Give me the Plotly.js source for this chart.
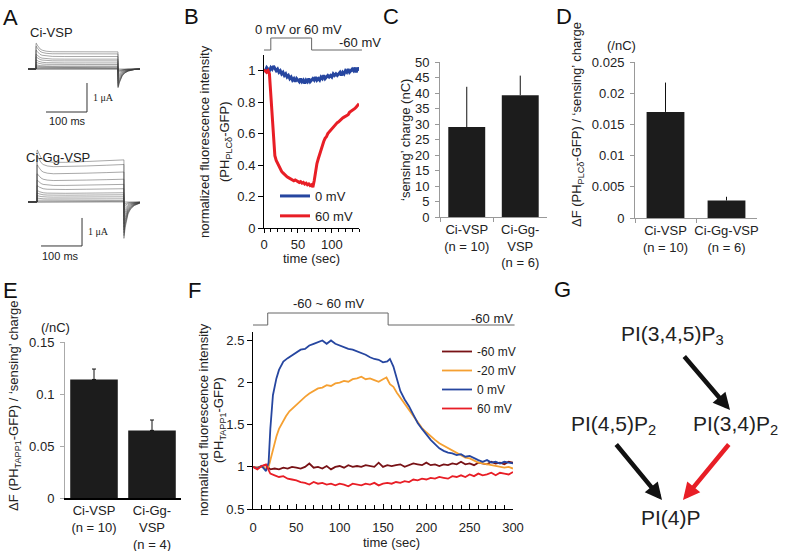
<!DOCTYPE html>
<html><head><meta charset="utf-8">
<script src="https://cdn.plot.ly/plotly-3.0.1.min.js"></script>
<style>html,body{margin:0;padding:0;background:#fff}#chart{width:785px;height:551px}</style>
</head><body><div id="chart"></div>
<script>
// ================= DATA =================
// A: current families (steady amplitude and OFF-tail amplitude per trace, µA)
const ciVspSteady = [0.59, 0.52, 0.43, 0.34, 0.28, 0.21, 0.155, 0.10, 0.07, 0.04, 0.02, 0.007, 0];
const ciVspTail   = [-0.65, -0.62, -0.58, -0.53, -0.47, -0.40, -0.33, -0.26, -0.19, -0.13, -0.08, -0.04, -0.01];
const ciVspTimeMs = [-20, 0, 0.01, 1, 3, 6, 10, 15, 25, 40, 70, 120, 199.99, 200, 200.01, 201, 203, 206, 210, 216, 225, 240, 254];
const ciVspOnShape  = [0, 0, 1.5, 1.5, 1.4, 1.28, 1.17, 1.1, 1.04, 1.01, 1.0, 1.0, 1.0, 0, 0, 0, 0, 0, 0, 0, 0, 0, 0];
const ciVspOffShape = [0, 0, 0, 0, 0, 0, 0, 0, 0, 0, 0, 0, 0, 0, 1.0, 0.95, 0.75, 0.55, 0.38, 0.22, 0.11, 0.03, 0];

const ggSteady = [1.46, 1.30, 1.04, 0.79, 0.61, 0.46, 0.32, 0.25, 0.18, 0.11, 0.05, 0.02, 0];
const ggTail   = [-1.30, -1.20, -1.10, -1.00, -0.90, -0.78, -0.65, -0.52, -0.40, -0.28, -0.17, -0.08, -0.02];
const ggTimeMs = [-22, 0, 0.01, 1, 3, 6, 10, 15, 25, 40, 70, 120, 170, 211.99, 212, 212.01, 213, 215, 218, 222, 228, 237, 251];
const ggOnShape  = [0, 0, 1.27, 1.27, 1.22, 1.15, 1.08, 1.03, 0.99, 0.97, 0.97, 0.99, 1.01, 1.03, 0, 0, 0, 0, 0, 0, 0, 0, 0];
const ggOffShape = [0, 0, 0, 0, 0, 0, 0, 0, 0, 0, 0, 0, 0, 0, 0, 1.0, 0.9, 0.7, 0.5, 0.33, 0.2, 0.1, 0.03];

// B: normalized PH(PLCδ)-GFP fluorescence
const bTime = [0,2,4,6,8,10,12,14,16,18,20,22,24,26,28,30,32,34,36,38,40,42,44,46,48,50,52,54,56,58,60,62,64,66,68,70,72,74,76,78,80,82,84,86,88,90,92,94,96,98,100,102,104,106,108,110,112,114,116,118,120,122,124,126,128,130,132,134,136,138,140];
const b0mV = [1.01,1.00,1.02,1.01,1.00,1.02,1.01,1.03,1.01,1.00,1.01,0.99,1.00,0.98,0.99,0.97,0.98,0.96,0.97,0.95,0.96,0.94,0.95,0.93,0.95,0.94,0.93,0.95,0.93,0.94,0.92,0.94,0.93,0.95,0.93,0.94,0.95,0.94,0.96,0.94,0.95,0.94,0.96,0.95,0.97,0.95,0.96,0.97,0.96,0.97,0.96,0.98,0.97,0.98,0.97,0.98,0.99,0.97,0.99,0.98,1.00,0.99,1.01,0.99,1.00,1.01,1.00,1.02,0.99,1.02,1.00];
const b60mV = [1.00,1.00,0.99,1.00,0.98,0.85,0.65,0.52,0.46,0.43,0.41,0.39,0.37,0.36,0.35,0.34,0.33,0.325,0.32,0.315,0.31,0.31,0.30,0.305,0.30,0.295,0.29,0.295,0.285,0.29,0.28,0.285,0.275,0.28,0.27,0.275,0.26,0.30,0.36,0.41,0.44,0.47,0.50,0.53,0.55,0.57,0.58,0.60,0.61,0.62,0.63,0.645,0.65,0.66,0.67,0.675,0.685,0.69,0.70,0.705,0.71,0.72,0.72,0.735,0.74,0.745,0.75,0.76,0.77,0.78,0.79];
const bTickVals = [0, 0.2, 0.4, 0.6, 0.8, 1];
const bTickText = ['0', '0.2', '0.4', '0.6', '0.8', '1'];
const bProtoTime = [0, 10, 10, 70, 70, 144];
const bProtoMv   = [-60, -60, 60, 60, -60, -60];

// C: sensing charge
const cCategories = ['Ci-VSP', 'Ci-Gg-VSP'];
const cLabels = ['Ci-VSP<br>(n = 10)', 'Ci-Gg-<br>VSP<br>(n = 6)'];
const cCharge = [29.0, 39.3];
const cErr = [13.0, 6.3];

// D: ΔF(PLCδ) / sensing charge
const dCategories = ['Ci-VSP', 'Ci-Gg-VSP'];
const dLabels = ['Ci-VSP<br>(n = 10)', 'Ci-Gg-VSP<br>(n = 6)'];
const dRatio = [0.0170, 0.0028];
const dErr = [0.0047, 0.0006];
const dTickVals = [0, 0.005, 0.01, 0.015, 0.02, 0.025];
const dTickText = ['0', '0.005', '0.01', '0.015', '0.02', '0.025'];

// E: ΔF(TAPP1) / sensing charge
const eCategories = ['Ci-VSP', 'Ci-Gg-VSP'];
const eLabels = ['Ci-VSP<br>(n = 10)', 'Ci-Gg-<br>VSP<br>(n = 4)'];
const eRatio = [0.114, 0.065];
const eErr = [0.010, 0.010];
const eTickVals = [0, 0.05, 0.1, 0.15];
const eTickText = ['0', '0.05', '0.1', '0.15'];

// F: normalized PH(TAPP1)-GFP fluorescence
const fTimeM60 = [0,5,10,15,20,25,30,35,40,45,50,55,60,65,70,75,80,85,90,95,100,105,110,115,120,125,130,135,140,145,150,155,160,165,170,175,180,185,190,195,200,205,210,215,220,225,230,235,240,245,250,255,260,265,270,275,280,285,290,295,300];
const fM60 = [1.00,0.99,1.01,1.02,0.97,0.98,0.97,0.99,0.98,1.00,0.99,0.98,1.00,1.04,0.99,1.00,0.98,1.01,0.97,1.00,1.01,0.99,1.02,1.00,1.01,1.00,1.02,1.01,1.00,1.05,1.00,1.02,1.01,1.02,1.03,1.00,1.02,1.04,1.03,1.02,1.05,1.02,1.03,1.01,1.03,1.02,1.04,1.03,1.06,1.03,1.04,1.02,1.05,1.04,1.03,1.06,1.04,1.05,1.03,1.06,1.05];
const fTimeM20 = [0,5,10,15,18,21,24,27,30,34,38,42,46,50,55,60,65,70,75,80,85,90,95,100,105,110,115,120,125,130,135,140,145,150,154,158,162,166,170,175,180,185,190,195,200,205,210,215,220,225,230,235,240,245,250,255,260,265,270,275,280,285,290,295,300];
const fM20 = [1.00,0.99,1.00,0.98,1.00,1.12,1.25,1.36,1.45,1.53,1.60,1.66,1.70,1.74,1.78,1.83,1.87,1.90,1.93,1.94,1.97,1.96,1.99,2.00,2.02,2.01,2.04,2.05,2.07,2.04,2.05,2.03,2.01,2.04,2.06,1.98,1.95,1.88,1.82,1.75,1.67,1.60,1.52,1.46,1.41,1.36,1.32,1.28,1.25,1.22,1.20,1.16,1.14,1.11,1.10,1.07,1.05,1.04,1.03,1.02,1.01,1.00,0.99,1.00,0.98];
const fTime0 = [0,5,10,15,18,20,23,27,30,35,40,45,50,55,60,65,70,75,80,85,90,95,100,105,110,115,120,125,130,135,140,145,150,155,158,162,166,170,175,180,185,190,195,200,205,210,215,220,225,230,235,240,245,250,255,260,265,270,275,280,285,290,295,300];
const f0 = [1.00,0.98,1.01,0.95,1.05,1.45,1.85,2.05,2.15,2.25,2.29,2.32,2.36,2.39,2.40,2.44,2.46,2.48,2.50,2.46,2.50,2.46,2.44,2.42,2.40,2.39,2.37,2.35,2.33,2.30,2.28,2.27,2.24,2.25,2.28,2.19,2.05,1.90,1.80,1.72,1.62,1.52,1.45,1.38,1.32,1.27,1.22,1.19,1.17,1.16,1.14,1.15,1.12,1.13,1.10,1.08,1.06,1.08,1.05,1.06,1.04,1.06,1.05,1.04];
const fTime60 = [0,5,10,15,18,20,25,30,35,40,45,50,55,60,65,70,75,80,85,90,95,100,105,110,115,120,125,130,135,140,145,150,155,160,165,170,175,180,185,190,195,200,205,210,215,220,225,230,235,240,245,250,255,260,265,270,275,280,285,290,295,300];
const f60 = [1.00,0.97,1.01,1.03,0.96,0.92,0.90,0.88,0.89,0.86,0.85,0.84,0.82,0.81,0.79,0.82,0.80,0.81,0.79,0.80,0.78,0.80,0.79,0.77,0.80,0.79,0.78,0.80,0.79,0.81,0.78,0.80,0.81,0.80,0.82,0.81,0.83,0.82,0.85,0.84,0.86,0.85,0.87,0.86,0.88,0.87,0.86,0.89,0.88,0.90,0.88,0.91,0.89,0.92,0.90,0.91,0.93,0.90,0.93,0.92,0.91,0.94];
const fTickVals = [0.5, 1, 1.5, 2, 2.5];
const fTickText = ['0.5', '1', '1.5', '2', '2.5'];
const fProtoTime = [0, 17, 17, 156, 156, 302];
const fProtoMv   = [-60, -60, 60, 60, -60, -60];

// ================= LAYOUT HELPERS =================
const W = 785, H = 551;
const xd = (a, b) => [a / W, b / W];
const yd = (top, bottom) => [1 - bottom / H, 1 - top / H];
const px = v => v / W;
const py = v => 1 - v / H;
const FONT = 'Liberation Sans, Arial, Helvetica, sans-serif';
const BLUE = 'rgb(38,70,160)', RED = 'rgb(232,30,38)', ORANGE = 'rgb(245,160,50)', DARKRED = 'rgb(120,18,22)';

const hidden = (domain, range, anchor) => ({domain, range, anchor, visible: false, fixedrange: true, showgrid: false, zeroline: false});
const axBase = {showgrid: false, zeroline: false, showline: true, linecolor: '#000', linewidth: 1,
  ticks: 'outside', ticklen: 4, tickcolor: '#000', tickwidth: 1, tickangle: 0,
  tickfont: {size: 13, color: '#222', family: FONT}, fixedrange: true};
const ax = (o) => Object.assign({}, axBase, o);

const traces = [];
// ---- A: current families
const aCol = 'rgba(60,60,60,0.75)';
for (let i = 0; i < ciVspSteady.length; i++) {
  traces.push({type: 'scatter', mode: 'lines', x: ciVspTimeMs,
    y: ciVspTimeMs.map((t, k) => ciVspSteady[i] * ciVspOnShape[k] + ciVspTail[i] * ciVspOffShape[k]),
    line: {color: aCol, width: 0.6}, xaxis: 'x', yaxis: 'y', showlegend: false, hoverinfo: 'skip'});
}
for (let i = 0; i < ggSteady.length; i++) {
  traces.push({type: 'scatter', mode: 'lines', x: ggTimeMs,
    y: ggTimeMs.map((t, k) => ggSteady[i] * ggOnShape[k] + ggTail[i] * ggOffShape[k]),
    line: {color: aCol, width: 0.6}, xaxis: 'x2', yaxis: 'y2', showlegend: false, hoverinfo: 'skip'});
}
// scale bars (100 ms, 1 µA)
traces.push({type: 'scatter', mode: 'lines', x: [24.4, 124.4, 124.4], y: [-1.483, -1.483, -0.483],
  line: {color: '#333', width: 1}, xaxis: 'x', yaxis: 'y', showlegend: false, hoverinfo: 'skip'});
traces.push({type: 'scatter', mode: 'lines', x: [9.8, 109.8, 109.8], y: [-1.571, -1.571, -0.571],
  line: {color: '#333', width: 1}, xaxis: 'x2', yaxis: 'y2', showlegend: false, hoverinfo: 'skip'});

// ---- B
traces.push({type: 'scatter', mode: 'lines', x: bTime, y: b0mV, name: '0 mV', legend: 'legend',
  line: {color: BLUE, width: 3}, xaxis: 'x3', yaxis: 'y3'});
traces.push({type: 'scatter', mode: 'lines', x: bTime, y: b60mV, name: '60 mV', legend: 'legend',
  line: {color: RED, width: 3}, xaxis: 'x3', yaxis: 'y3'});
traces.push({type: 'scatter', mode: 'lines', x: bProtoTime, y: bProtoMv, line: {color: '#666', width: 1},
  xaxis: 'x8', yaxis: 'y8', showlegend: false});

// ---- C, D, E bars
const barTrace = (cats, vals, errs, xa, ya, width, capw) => ({type: 'bar', x: cats, y: vals, width: width,
  marker: {color: '#1c1c1c', line: {width: 0}},
  error_y: {type: 'data', symmetric: false, array: errs, arrayminus: errs.map(() => 0), color: '#111', thickness: 1, width: capw},
  xaxis: xa, yaxis: ya, showlegend: false, hoverinfo: 'skip'});
traces.push(barTrace(cCategories, cCharge, cErr, 'x4', 'y4', 0.69, 0));
traces.push(barTrace(dCategories, dRatio, dErr, 'x5', 'y5', 0.62, 0));
traces.push(barTrace(eCategories, eRatio, eErr, 'x6', 'y6', 0.82, 2));

// ---- F
traces.push({type: 'scatter', mode: 'lines', x: fTimeM60, y: fM60, name: '-60 mV', legend: 'legend2',
  line: {color: DARKRED, width: 1.8}, xaxis: 'x7', yaxis: 'y7'});
traces.push({type: 'scatter', mode: 'lines', x: fTimeM20, y: fM20, name: '-20 mV', legend: 'legend2',
  line: {color: ORANGE, width: 1.8}, xaxis: 'x7', yaxis: 'y7'});
traces.push({type: 'scatter', mode: 'lines', x: fTime0, y: f0, name: '0 mV', legend: 'legend2',
  line: {color: BLUE, width: 1.8}, xaxis: 'x7', yaxis: 'y7'});
traces.push({type: 'scatter', mode: 'lines', x: fTime60, y: f60, name: '60 mV', legend: 'legend2',
  line: {color: RED, width: 1.8}, xaxis: 'x7', yaxis: 'y7'});
traces.push({type: 'scatter', mode: 'lines', x: fProtoTime, y: fProtoMv, line: {color: '#666', width: 1},
  xaxis: 'x9', yaxis: 'y9', showlegend: false});

// ================= ANNOTATIONS =================
const ann = [];
const txt = (x, y, text, opt = {}) => ann.push(Object.assign({xref: 'paper', yref: 'paper', x: px(x), y: py(y),
  text, showarrow: false, xanchor: 'center', yanchor: 'middle',
  font: {family: FONT, size: 13, color: '#222'}}, opt));
const letter = (x, y, t) => txt(x, y, t, {font: {family: FONT, size: 22, color: '#111'}});
letter(10, 17, 'A'); letter(191, 16, 'B'); letter(391, 16, 'C'); letter(564, 16, 'D');
letter(10, 290, 'E'); letter(194, 290, 'F'); letter(562, 289, 'G');

// A labels
txt(51, 33, 'Ci-VSP');
txt(58, 157, 'Ci-Gg-VSP');
txt(91, 97, '1 μA', {xanchor: 'left', font: {family: 'Liberation Serif, Times New Roman, serif', size: 10, color: '#222'}});
txt(86, 231, '1 μA', {xanchor: 'left', font: {family: 'Liberation Serif, Times New Roman, serif', size: 10, color: '#222'}});
txt(67, 121, '100 ms', {font: {family: FONT, size: 11, color: '#222'}});
txt(60, 256, '100 ms', {font: {family: FONT, size: 11, color: '#222'}});

// B labels
txt(298, 30, '0 mV or 60 mV');
txt(383, 43, '-60 mV', {xanchor: 'right'});
txt(204, 142, 'normalized fluorescence intensity', {textangle: -90});
txt(225, 142, '(PH<sub>PLCδ</sub>-GFP)', {textangle: -90});
txt(311, 258, 'time (sec)');

// C labels
txt(405, 140, '‘sensing’ charge (nC)', {textangle: -90});

// D labels
txt(578, 125, 'ΔF (PH<sub>PLCδ</sub>-GFP) / ‘sensing’ charge', {textangle: -90});
txt(621, 46, '(/nC)');

// E labels
txt(14, 406, 'ΔF (PH<sub>TAPP1</sub>-GFP) / ‘sensing’ charge', {textangle: -90});
txt(55, 327, '(/nC)');

// F labels
txt(329, 303, '-60 ~ 60 mV');
txt(515, 318, '-60 mV', {xanchor: 'right'});
txt(203, 420, 'normalized fluorescence intensity', {textangle: -90});
txt(219, 420, '(PH<sub>TAPP1</sub>-GFP)', {textangle: -90});
txt(391, 542, 'time (sec)');

// G scheme
const gFont = {family: FONT, size: 21, color: '#222'};
txt(672, 335, 'PI(3,4,5)P<sub>3</sub>', {font: gFont});
txt(613, 425, 'PI(4,5)P<sub>2</sub>', {font: gFont});
txt(735, 425, 'PI(3,4)P<sub>2</sub>', {font: gFont});
txt(671, 517, 'PI(4)P', {font: gFont});
const arrow = (x0, y0, x1, y1, col) => ann.push({xref: 'paper', yref: 'paper', x: px(x1), y: py(y1),
  ax: x0 - x1, ay: y0 - y1, text: '', showarrow: true, arrowhead: 2, arrowsize: 0.75, arrowwidth: 4.5, arrowcolor: col});
arrow(683, 355, 730, 410, '#111');
arrow(615, 443, 662, 500, '#111');
arrow(730, 443, 683, 500, RED);

// ================= LAYOUT =================
const layout = {
  width: W, height: H, margin: {l: 0, r: 0, t: 0, b: 0}, paper_bgcolor: '#fff', plot_bgcolor: 'rgba(0,0,0,0)',
  font: {family: FONT, size: 13, color: '#222'},
  xaxis: hidden(xd(28, 140), [-19.5, 253.7], 'y'), yaxis: hidden(yd(36, 118), [-1.69, 1.138], 'x'),
  xaxis2: hidden(xd(28, 140), [-22, 251.2], 'y2'), yaxis2: hidden(yd(140, 252), [-1.786, 2.214], 'x2'),
  xaxis3: ax({anchor: 'y3', domain: xd(264, 359), range: [0, 140], tickvals: [0, 50, 100],
    minor: {dtick: 10, tick0: 0, ticks: 'outside', ticklen: 3, tickcolor: '#000'}}),
  yaxis3: ax({anchor: 'x3', domain: yd(55, 228), range: [0, 1.1], tickvals: bTickVals, ticktext: bTickText, ticklen: 5}),
  xaxis4: ax({anchor: 'y4', domain: xd(440, 547), type: 'category', tickvals: cCategories, ticktext: cLabels,
    tickson: 'boundaries', linecolor: '#999', tickcolor: '#999', range: [-0.5, 1.5]}),
  yaxis4: ax({anchor: 'x4', domain: yd(62, 217), range: [0, 50], dtick: 5, linecolor: '#999', tickcolor: '#999', ticklabelstandoff: 3}),
  xaxis5: ax({anchor: 'y5', domain: xd(635, 757), type: 'category', tickvals: dCategories, ticktext: dLabels,
    tickson: 'boundaries', linecolor: '#999', tickcolor: '#999', range: [-0.5, 1.5]}),
  yaxis5: ax({anchor: 'x5', domain: yd(62, 218), range: [0, 0.025], tickvals: dTickVals, ticktext: dTickText, linecolor: '#999', tickcolor: '#999', ticklabelstandoff: 3}),
  xaxis6: ax({anchor: 'y6', domain: xd(65, 181), type: 'category', tickvals: eCategories, ticktext: eLabels,
    ticks: '', linewidth: 1.5, range: [-0.5, 1.5]}),
  yaxis6: ax({anchor: 'x6', domain: yd(342, 498), range: [0, 0.15], tickvals: eTickVals, ticktext: eTickText, linecolor: '#aaa', tickcolor: '#aaa', ticklabelstandoff: 3}),
  xaxis7: ax({anchor: 'y7', domain: xd(253, 513), range: [0, 300], dtick: 50, ticks: 'inside', ticklen: 5, ticklabelstandoff: 6,
    minor: {dtick: 10, tick0: 0, ticks: 'inside', ticklen: 4, tickcolor: '#000'}}),
  yaxis7: ax({anchor: 'x7', domain: yd(332, 509), range: [0.5, 2.6], tickvals: fTickVals, ticktext: fTickText, ticklen: 5}),
  xaxis8: hidden(xd(264, 362), [0, 144.1], 'y8'), yaxis8: hidden(yd(36, 54), [-100, 80], 'x8'),
  xaxis9: hidden(xd(253, 515), [0, 302.5], 'y9'), yaxis9: hidden(yd(309, 329), [-100, 100], 'x9'),
  legend: {x: px(275), y: py(181), xanchor: 'left', yanchor: 'top', bgcolor: 'rgba(0,0,0,0)', borderwidth: 0,
    font: {family: FONT, size: 13, color: '#222'}, tracegroupgap: 0},
  legend2: {x: px(437), y: py(337), xanchor: 'left', yanchor: 'top', bgcolor: 'rgba(0,0,0,0)', borderwidth: 0,
    font: {family: FONT, size: 12, color: '#222'}, tracegroupgap: 0},
  annotations: ann,
  showlegend: true
};

Plotly.newPlot('chart', traces, layout, {staticPlot: true, displayModeBar: false});
</script>
</body></html>
